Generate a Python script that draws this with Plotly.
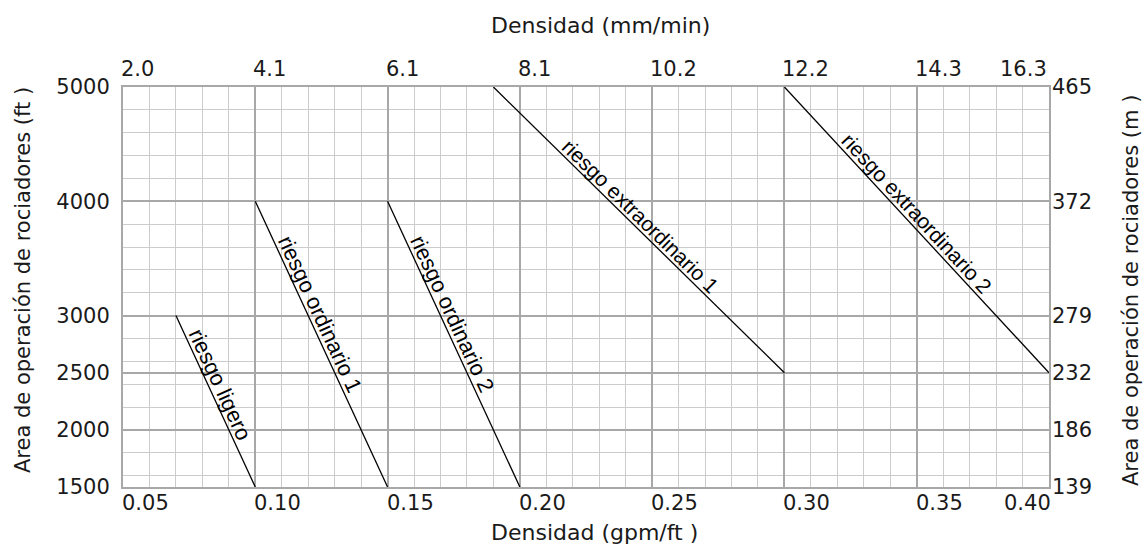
import math
import plotly.graph_objects as go

# ---------------- data ----------------
hazard_names = ["riesgo ligero", "riesgo ordinario 1", "riesgo ordinario 2",
                "riesgo extraordinario 1", "riesgo extraordinario 2"]
density_at_max_area = [0.07, 0.10, 0.15, 0.19, 0.30]   # gpm/ft2
max_area = [3000, 4000, 4000, 5000, 5000]              # ft2
density_at_min_area = [0.10, 0.15, 0.20, 0.30, 0.40]   # gpm/ft2
min_area = [1500, 1500, 1500, 2500, 2500]              # ft2

gpm_ticks = [0.05, 0.10, 0.15, 0.20, 0.25, 0.30, 0.35, 0.40]
gpm_labels = ["0.05", "0.10", "0.15", "0.20", "0.25", "0.30", "0.35", "0.40"]
mm_labels = ["2.0", "4.1", "6.1", "8.1", "10.2", "12.2", "14.3", "16.3"]
ft_ticks = [1500, 2000, 2500, 3000, 4000, 5000]
ft_labels = ["1500", "2000", "2500", "3000", "4000", "5000"]
m_labels = ["139", "186", "232", "279", "372", "465"]

# ---------------- styles / layout ----------------
W, H = 1145, 546
ML, MR, MT, MB = 123, 96, 87, 59
XR = [0.05, 0.40]
YR = [1500, 5000]
PW, PH = W - ML - MR, H - MT - MB

MAJOR = "#a8a8a8"
MINOR = "#cccccc"
TICK_FONT = dict(family="DejaVu Sans", size=21, color="#1a1a1a")
TITLE_FONT_X = dict(family="DejaVu Sans", size=22, color="#1a1a1a")
TITLE_FONT_Y = dict(family="DejaVu Sans", size=21, color="#1a1a1a")
LABEL_FONT = "Liberation Sans"
label_sizes = [22, 22, 22, 21, 21]
label_t = [0.43, 0.41, 0.41, 0.48, 0.47]
label_off = 11

fig = go.Figure()

for i, name in enumerate(hazard_names):
    fig.add_trace(go.Scatter(
        x=[density_at_max_area[i], density_at_min_area[i]],
        y=[max_area[i], min_area[i]],
        mode="lines", line=dict(color="black", width=1.3),
        name=name, showlegend=False, hoverinfo="skip"))

# invisible trace so the right-hand axis is drawn
fig.add_trace(go.Scatter(x=[XR[0]] * len(ft_ticks), y=ft_ticks, yaxis="y2",
                         mode="markers", marker=dict(opacity=0),
                         showlegend=False, hoverinfo="skip"))

annotations = []

# bottom tick labels (gpm/ft2), left-aligned on gridlines
for i, (v, lab) in enumerate(zip(gpm_ticks, gpm_labels)):
    last = i == len(gpm_ticks) - 1
    annotations.append(dict(
        x=v, xref="x", y=0, yref="paper", text=lab, showarrow=False,
        xanchor="right" if last else "left", yanchor="middle",
        xshift=4 if last else -3, yshift=-16, font=TICK_FONT))

# top tick labels (mm/min)
for i, (v, lab) in enumerate(zip(gpm_ticks, mm_labels)):
    last = i == len(gpm_ticks) - 1
    annotations.append(dict(
        x=v, xref="x", y=1, yref="paper", text=lab, showarrow=False,
        xanchor="right" if last else "left", yanchor="middle",
        xshift=0 if last else -4, yshift=18, font=TICK_FONT))

# axis titles
annotations += [
    dict(x=(600 - ML) / PW, xref="paper", y=1, yref="paper", yshift=62,
         text="Densidad (mm/min)", showarrow=False, xanchor="center",
         yanchor="middle", font=TITLE_FONT_X),
    dict(x=(594 - ML) / PW, xref="paper", y=0, yref="paper", yshift=-45,
         text="Densidad (gpm/ft )", showarrow=False, xanchor="center",
         yanchor="middle", font=TITLE_FONT_X),
    dict(x=(23 - ML) / PW, xref="paper", y=(H - MB - 280) / PH, yref="paper",
         text="Area de operación de rociadores (ft )", textangle=-90,
         showarrow=False, xanchor="center", yanchor="middle",
         font=TITLE_FONT_Y),
    dict(x=(1131 - ML) / PW, xref="paper", y=(H - MB - 291) / PH, yref="paper",
         text="Area de operación de rociadores (m )", textangle=-90,
         showarrow=False, xanchor="center", yanchor="middle",
         font=TITLE_FONT_Y),
]

# labels along the hazard lines
sx = PW / (XR[1] - XR[0])
sy = PH / (YR[1] - YR[0])
for i, name in enumerate(hazard_names):
    x0, y0 = density_at_max_area[i], max_area[i]
    x1, y1 = density_at_min_area[i], min_area[i]
    dx = (x1 - x0) * sx
    dy = (y0 - y1) * sy
    L = math.hypot(dx, dy)
    ang = math.degrees(math.atan2(dy, dx))
    t = label_t[i]
    annotations.append(dict(
        x=x0 + t * (x1 - x0), xref="x", y=y0 + t * (y1 - y0), yref="y",
        text=name, textangle=ang, showarrow=False,
        xanchor="center", yanchor="middle",
        xshift=dy / L * label_off, yshift=dx / L * label_off,
        font=dict(family=LABEL_FONT, size=label_sizes[i], color="black")))

fig.update_layout(
    width=W, height=H,
    margin=dict(l=ML, r=MR, t=MT, b=MB, pad=0),
    paper_bgcolor="white", plot_bgcolor="white",
    showlegend=False,
    xaxis=dict(range=XR, tickmode="array", tickvals=gpm_ticks,
               showticklabels=False, ticks="",
               showgrid=True, gridcolor=MAJOR, gridwidth=2,
               minor=dict(tickmode="linear", tick0=0.05, dtick=0.01,
                          showgrid=True, gridcolor=MINOR, gridwidth=1, ticks=""),
               showline=True, mirror=True, linecolor=MAJOR, linewidth=2,
               zeroline=False, fixedrange=True),
    yaxis=dict(range=YR, tickmode="array", tickvals=ft_ticks, ticktext=ft_labels,
               tickfont=TICK_FONT, ticks="", ticklabelstandoff=7,
               showgrid=True, gridcolor=MAJOR, gridwidth=2,
               minor=dict(tickmode="linear", tick0=1600, dtick=200,
                          showgrid=True, gridcolor=MINOR, gridwidth=1, ticks=""),
               showline=True, mirror=True, linecolor=MAJOR, linewidth=2,
               zeroline=False, fixedrange=True),
    yaxis2=dict(range=YR, overlaying="y", side="right", anchor="x",
                tickmode="array", tickvals=ft_ticks, ticktext=m_labels,
                tickfont=TICK_FONT, ticks="", ticklabelstandoff=2,
                showgrid=False, showline=False, zeroline=False, fixedrange=True),
    annotations=annotations,
)

fig.write_html(
    "out.html",
    config={"displayModeBar": False, "staticPlot": True},
    post_script="document.body.style.margin='0px';"
                "document.body.style.overflow='hidden';",
)
